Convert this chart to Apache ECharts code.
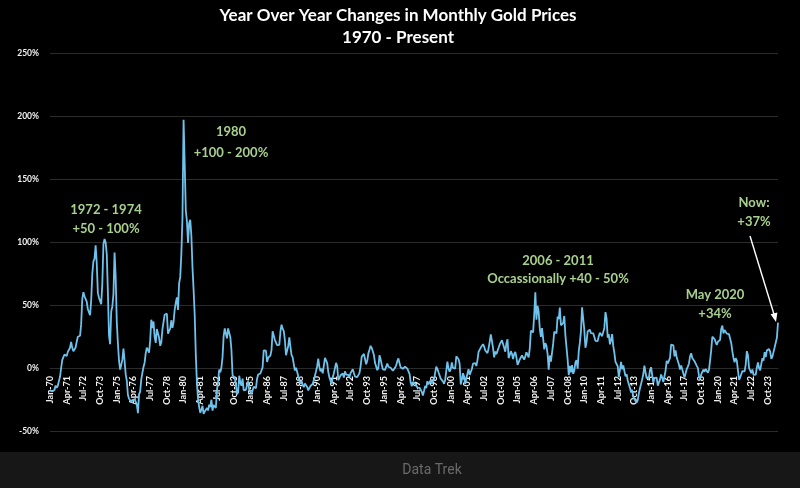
<!DOCTYPE html>
<html>
<head>
<meta charset="utf-8">
<script src="https://cdn.jsdelivr.net/npm/echarts@6/dist/echarts.min.js"></script>
<style>
html,body{margin:0;padding:0;background:#000;}
#c{width:800px;height:488px;}
</style>
</head>
<body>
<div id="c"></div>
<script>
// Year-over-year % change in monthly gold prices, Jan-1970 onward
const yoy1970s = [
  -17.5,-17.8,-18.7,-17.8,-17.5,-13.9,-15.8,-14.1,-10.4,-7.0,0.0,6.3,
  8.6,10.6,10.8,9.6,12.8,13.3,16.1,20.6,16.0,13.3,14.7,16.3,
  20.8,24.8,24.2,25.6,34.8,54.9,60.2,56.9,56.0,52.7,46.6,46.9,
  42.0,53.6,74.7,84.7,86.8,97.3,83.0,59.4,55.7,54.2,50.7,67.0,
  98.2,102.4,99.5,90.3,60.1,25.8,18.9,44.8,48.8,58.6,91.7,72.4,
  36.3,19.6,5.8,-1.3,2.5,6.6,15.5,5.6,-5.1,-10.1,-21.4,-24.3,
  -25.3,-27.2,-25.6,-24.4,-24.8,-23.5,-28.9,-35.8,-20.9,-18.7,-9.0,-3.9,
  0.8,4.2,11.8,16.1,16.4,12.1,22.1,38.3,31.6,36.9,24.5,19.9,
  30.9,30.7,24.0,17.6,20.3,30.6,31.7,42.3,41.6,43.1,27.2,29.5,
  31.2,37.9,31.8,36.4,46.2,51.9,56.1,46.0,67.2,72.3,90.3,119.0
];
const yoy1980s = [
  197.1,162.0,125.0,116.3,99.3,115.0,117.6,105.0,80.0,62.0,42.0,10.0,
  -12.0,-24.8,-31.0,-35.5,-33.0,-30.0,-36.5,-34.5,-34.2,-31.8,-33.7,-29.1,
  -31.1,-25.2,-33.8,-29.3,-30.4,-31.7,-17.1,-11.3,-1.3,-3.5,0.4,8.6,
  25.3,31.4,27.1,23.5,31.4,31.1,24.5,14.3,-5.8,-6.8,-8.0,-12.9,
  -20.9,-19.3,-6.1,-11.9,-14.0,-8.5,-17.7,-16.5,-17.3,-13.6,-10.6,-17.5,
  -18.3,-20.7,-19.9,-14.8,-16.1,-16.1,-8.7,-5.2,-5.2,-4.4,-4.7,0.6,
  14.0,13.3,13.7,4.8,8.2,8.1,9.8,14.3,29.2,30.1,22.4,21.4,
  18.2,18.4,18.3,28.8,34.4,31.2,29.3,22.2,10.1,9.8,17.5,24.4,
  16.8,10.2,8.5,3.1,-2.0,0.3,-2.9,-6.3,-10.1,-12.5,-10.2,-13.6,
  -15.2,-12.3,-12.0,-15.0,-17.8,-18.5,-14.3,-15.3,-12.6,-9.8,-6.1,-2.5
];
const yoy1990s = [
  1.4,7.5,0.7,-2.6,-0.5,-4.2,-3.3,8.0,7.6,3.8,-3.2,-7.6,
  -6.5,-12.7,-7.6,-4.2,-3.3,4.1,1.4,-9.7,-10.5,-5.8,-5.8,-4.4,
  -7.6,-2.7,-5.2,-5.5,-5.5,-7.1,-4.1,-3.8,-0.9,-4.0,-6.8,-7.4,
  -7.2,-7.0,-4.1,1.1,8.9,9.0,11.2,10.7,2.9,5.7,11.6,14.5,
  17.6,16.0,16.3,10.3,3.9,3.8,-1.7,0.2,10.2,7.0,2.8,-1.0,
  -2.1,-1.5,-0.5,3.6,1.0,0.5,0.2,0.8,-2.2,-1.7,0.3,2.1,
  5.4,7.6,3.7,0.5,1.7,-0.6,-0.7,1.0,0.0,-0.5,-2.0,-4.7,
  -11.4,-14.4,-11.2,-12.3,-12.3,-11.5,-15.5,-16.4,-15.7,-14.7,-19.0,-21.8,
  -18.3,-14.2,-15.9,-10.5,-13.0,-14.2,-9.6,-12.3,-10.5,-8.9,-3.9,1.0,
  -0.7,-3.4,-3.3,-8.4,-7.6,-10.6,-12.5,-9.6,-8.4,5.0,-0.3,-2.9
];
const yoy2000s = [
  -0.9,4.4,0.1,-0.9,-0.5,9.3,9.9,6.9,3.4,-13.1,-9.3,-4.1,
  -6.7,-12.7,-8.2,-7.0,-1.0,-5.4,-5.0,-0.8,3.5,4.9,3.8,1.6,
  6.1,12.8,11.8,16.2,15.5,18.9,17.1,13.9,12.6,11.8,15.6,20.8,
  26.7,21.5,15.8,8.4,13.1,11.0,12.0,16.0,18.7,19.7,22.1,22.3,
  16.0,12.9,19.4,22.8,7.9,10.1,13.4,11.3,7.0,11.0,12.7,8.5,
  2.5,4.5,6.8,6.5,9.9,9.8,6.6,9.3,12.5,11.7,8.5,15.4,
  29.6,31.1,28.3,42.3,60.1,38.4,49.3,44.5,31.2,24.7,31.7,23.5,
  14.8,19.8,17.6,11.3,-1.3,9.9,5.0,5.2,19.1,28.8,28.4,27.5,
  40.9,38.7,47.9,33.9,33.3,35.7,41.3,26.1,16.4,6.9,-5.6,1.6,
  -3.5,2.3,-4.6,-2.1,4.5,6.3,-0.6,13.2,20.1,29.3,48.1,39.0
];
const yoy2010s = [
  30.2,16.1,20.4,29.0,29.8,30.4,27.7,28.0,27.5,28.6,21.6,22.6,
  21.3,25.3,27.9,28.3,25.3,24.0,31.8,44.4,39.4,24.1,26.9,18.8,
  22.1,26.9,17.6,12.0,4.8,4.4,1.4,-7.2,-1.6,4.9,-1.0,2.0,
  0.9,-6.6,-4.8,-9.9,-10.8,-15.8,-19.3,-17.4,-22.7,-24.7,-25.9,-27.5,
  -25.5,-20.1,-16.1,-12.6,-9.0,-4.8,1.9,-3.8,-8.1,-7.1,-7.8,-1.6,
  0.6,-5.6,-11.7,-7.8,-6.8,-7.7,-14.0,-13.7,-9.2,-5.2,-7.7,-11.1,
  -12.3,-2.2,5.7,3.7,5.1,8.0,18.5,19.8,17.9,9.2,14.0,8.3,
  8.7,2.8,-1.2,2.0,-1.1,-1.3,-7.5,-4.3,-0.8,1.1,3.6,9.3,
  11.7,7.9,7.6,5.4,4.6,1.7,0.1,-6.3,-8.8,-5.1,-4.8,-1.2,
  -3.0,-0.8,-1.8,-3.7,-1.5,6.0,14.1,24.8,26.0,23.0,20.5,18.3
];
const yoy2020s = [
  20.8,21.0,22.3,31.0,33.6,27.5,30.2,31.2,27.3,27.1,26.8,25.6,
  19.7,13.2,8.0,4.6,7.8,5.8,-1.8,-9.3,-7.6,-6.5,-2.4,-3.7,
  -2.7,2.7,13.4,10.1,0.0,0.2,-4.1,-1.1,-5.4,-6.4,-5.2,0.4,
  4.5,0.0,-1.8,3.3,7.7,5.8,12.6,8.7,14.0,15.1,15.0,13.0,
  7.2,9.0,12.8,16.5,18.0,24.0,36.0
];
const monthNames = ['Jan','Feb','Mar','Apr','May','Jun','Jul','Aug','Sep','Oct','Nov','Dec'];
const startYear = 1970;
const yTickValues = [-50, 0, 50, 100, 150, 200, 250];

const values = [].concat(yoy1970s, yoy1980s, yoy1990s, yoy2000s, yoy2010s, yoy2020s);
const categories = values.map((v, i) =>
  monthNames[i % 12] + '-' + String(startYear + Math.floor(i / 12)).slice(2));

const green = '#a9d18e';
const annFont = 'Lato, "Noto Sans", sans-serif';
function ann(text, x, y) {
  return { type: 'text', x: x, y: y, z: 100,
    style: { text: text, fill: green, font: 'bold 13px ' + annFont, textAlign: 'center', textVerticalAlign: 'middle' } };
}

const chart = echarts.init(document.getElementById('c'), null, { renderer: 'canvas' });
chart.setOption({
  backgroundColor: '#000000',
  animation: false,
  grid: { left: 50, right: 22, top: 53, bottom: 57, containLabel: false },
  xAxis: {
    type: 'category',
    data: categories,
    boundaryGap: false,
    offset: -63,
    axisLine: { show: true, onZero: false, lineStyle: { color: '#2b2b2b', width: 1 } },
    axisTick: { show: false },
    splitLine: { show: false },
    axisLabel: {
      interval: 14, rotate: 90, margin: 8,
      color: '#f2f2f2', fontSize: 9, fontWeight: 'bold',
      fontFamily: 'Lato, "Noto Sans", sans-serif'
    }
  },
  yAxis: {
    type: 'value',
    min: yTickValues[0], max: yTickValues[yTickValues.length - 1], interval: 50,
    axisLine: { show: false },
    axisTick: { show: false },
    splitLine: { show: true, lineStyle: { color: '#2b2b2b', width: 1 } },
    axisLabel: {
      formatter: '{value}%', margin: 11,
      color: '#f2f2f2', fontSize: 8.5, fontWeight: 'bold',
      fontFamily: 'Lato, "Noto Sans", sans-serif'
    }
  },
  series: [{
    type: 'line',
    data: values,
    showSymbol: false,
    symbol: 'none',
    smooth: false,
    lineStyle: { color: '#6fc2ec', width: 1.8 },
    z: 5
  }],
  graphic: [
    { type: 'text', x: 398, y: 16, style: { text: 'Year Over Year Changes in Monthly Gold Prices', fill: '#ffffff',
        font: 'bold 17px ' + annFont, textAlign: 'center', textVerticalAlign: 'middle' } },
    { type: 'text', x: 398, y: 38, style: { text: '1970 - Present', fill: '#ffffff',
        font: 'bold 17px ' + annFont, textAlign: 'center', textVerticalAlign: 'middle' } },
    ann('1972 - 1974', 106, 210),
    ann('+50 - 100%', 106, 229),
    ann('1980', 231, 132),
    ann('+100 - 200%', 231, 153),
    ann('2006 - 2011', 558, 261),
    ann('Occassionally +40 - 50%', 558, 279),
    ann('May 2020', 715, 295),
    ann('+34%', 715, 314),
    ann('Now:', 754, 203),
    ann('+37%', 754, 222),
    { type: 'line', z: 100, shape: { x1: 750, y1: 236, x2: 774.5, y2: 316 },
      style: { stroke: '#ffffff', lineWidth: 1.4 } },
    { type: 'polygon', z: 100, shape: { points: [[776, 322], [770.6, 314.3], [777.4, 312.6]] },
      style: { fill: '#ffffff' } },
    { type: 'rect', z: 50, shape: { x: 0, y: 452, width: 800, height: 36 }, style: { fill: '#171717' } },
    { type: 'text', z: 51, x: 432, y: 470, style: { text: 'Data Trek', fill: '#6a6a6a',
        font: '14px Roboto, "Noto Sans", sans-serif', textAlign: 'center', textVerticalAlign: 'middle' } }
  ]
});
</script>
</body>
</html>
